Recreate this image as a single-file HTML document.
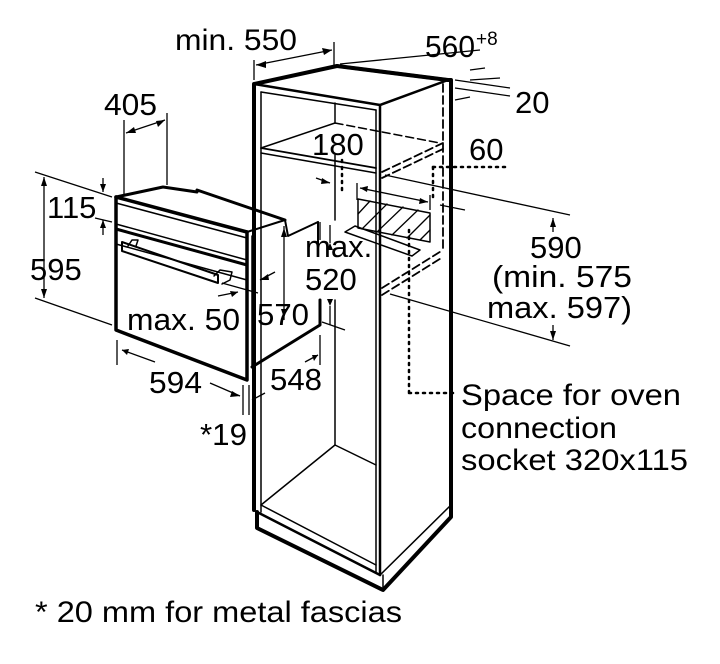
<!DOCTYPE html>
<html><head><meta charset="utf-8"><style>
html,body{margin:0;padding:0;background:#fff;}
svg{display:block;}
text{font-family:"Liberation Sans",Arial,sans-serif;fill:#000;}
</style></head><body>
<svg width="720" height="664" viewBox="0 0 720 664" xmlns="http://www.w3.org/2000/svg">
<rect width="720" height="664" fill="#fff"/>
<g stroke="#000" fill="none" stroke-linecap="round" stroke-linejoin="round">
<polyline points="254,510 254,84 337,66" stroke-width="4"/>
<polyline points="337,66 448,80 451,80 451,517 383,590 257,528 257,512" stroke-width="4"/>
<line x1="254" y1="84" x2="380" y2="105" stroke-width="2.5"/>
<line x1="380" y1="105" x2="448" y2="80" stroke-width="2.5"/>
<line x1="337" y1="66" x2="448" y2="80" stroke-width="3.5"/>
<line x1="380" y1="105" x2="380" y2="575" stroke-width="2.5"/>
<line x1="376" y1="110" x2="376" y2="573" stroke-width="1.5"/>
<line x1="261" y1="92" x2="261" y2="512" stroke-width="1.5"/>
<line x1="261" y1="92" x2="376" y2="110" stroke-width="1.5"/>
<line x1="261" y1="148" x2="376" y2="168" stroke-width="1.8"/>
<line x1="261" y1="153" x2="376" y2="173" stroke-width="1.5"/>
<line x1="261" y1="148" x2="335" y2="123" stroke-width="1.5"/>
<line x1="335" y1="103" x2="335" y2="123" stroke-width="1.5"/>
<line x1="335" y1="123" x2="440" y2="143" stroke-width="1.5" stroke-dasharray="8,4"/>
<line x1="335" y1="155" x2="335" y2="220" stroke-width="1.5"/>
<line x1="335" y1="300" x2="335" y2="445" stroke-width="1.5"/>
<line x1="335" y1="445" x2="376" y2="465" stroke-width="1.5"/>
<line x1="335" y1="445" x2="261" y2="505" stroke-width="1.5"/>
<line x1="261" y1="505" x2="376" y2="565" stroke-width="1.5"/>
<line x1="257" y1="512" x2="380" y2="575" stroke-width="2.5"/>
<line x1="380" y1="575" x2="451" y2="505" stroke-width="1.5"/>
<line x1="383" y1="575" x2="383" y2="590" stroke-width="1.5"/>
<line x1="443" y1="84" x2="443" y2="248" stroke-width="1.8" stroke-dasharray="8,4"/>
<line x1="382" y1="172" x2="443" y2="143" stroke-width="1.8" stroke-dasharray="8,4"/>
<line x1="382" y1="178" x2="443" y2="149" stroke-width="1.8" stroke-dasharray="8,4"/>
<line x1="382" y1="288" x2="443" y2="250" stroke-width="1.8" stroke-dasharray="8,4"/>
<line x1="382" y1="295" x2="443" y2="257" stroke-width="1.8" stroke-dasharray="8,4"/>
<polygon points="358,199 430,213 430,242 358,228" stroke-width="1.5"/>
<g stroke-width="1.3">
<line x1="358" y1="214" x2="370" y2="201"/><line x1="362" y1="229" x2="387" y2="204"/>
<line x1="377" y1="232" x2="403" y2="207"/><line x1="392" y1="235" x2="418" y2="210"/>
<line x1="407" y1="238" x2="430" y2="215"/><line x1="420" y1="240" x2="430" y2="230"/>
</g>
<polyline points="345,232 355,226 420,250 412,256 345,232" stroke-width="1.5"/>
<polyline points="116,197 116,330 247,380 247,232" stroke-width="3.5"/>
<line x1="116" y1="197" x2="247" y2="232" stroke-width="3.5"/>
<line x1="116" y1="203" x2="247" y2="238" stroke-width="1.5"/>
<polyline points="116,197 163,187 197,192" stroke-width="3"/>
<line x1="197" y1="190" x2="285" y2="220" stroke-width="3"/>
<polyline points="247,232 285,220 288,236 318,222" stroke-width="2"/>
<line x1="318" y1="222" x2="318" y2="250" stroke-width="2"/>
<line x1="116" y1="224" x2="247" y2="260" stroke-width="1.5"/>
<line x1="116" y1="229" x2="247" y2="265" stroke-width="3"/>
<line x1="116" y1="244" x2="247" y2="280" stroke-width="1.5"/>
<line x1="252" y1="236" x2="252" y2="367" stroke-width="1.5"/>
<polyline points="252,367 320,325 320,300" stroke-width="3"/>
<path d="M122,242 L218,275 L218,283 L122,251 Z" stroke-width="2"/>
<path d="M128,246 L132,240 L138,240 L136,246" stroke-width="1.5"/>
<path d="M214,276 L220,270 L232,272 L230,280 L222,284" stroke-width="1.5"/>
</g>
<g stroke="#000" stroke-width="1.3" fill="none">
<line x1="254" y1="60" x2="254" y2="80"/><line x1="334" y1="42" x2="334" y2="66"/>
<line x1="256" y1="65" x2="332" y2="50"/>
<line x1="340" y1="64" x2="480" y2="50"/>
<line x1="470" y1="70" x2="485" y2="68"/>
<line x1="455" y1="80" x2="510" y2="88"/><line x1="455" y1="88" x2="510" y2="96"/>
<line x1="500" y1="78" x2="470" y2="80"/><line x1="470" y1="97" x2="455" y2="100"/>
<line x1="124" y1="120" x2="124" y2="195"/><line x1="167" y1="113" x2="167" y2="185"/>
<line x1="126" y1="133" x2="165" y2="120"/>
<line x1="35" y1="172" x2="112" y2="197"/><line x1="35" y1="298" x2="112" y2="325"/>
<line x1="44" y1="177" x2="44" y2="298"/>
<line x1="103" y1="178" x2="103" y2="192"/><line x1="103" y1="220" x2="103" y2="235"/>
<line x1="95" y1="218" x2="112" y2="222"/>
<line x1="284" y1="226" x2="284" y2="320"/>
<line x1="260" y1="280" x2="275" y2="272"/>
<line x1="222" y1="283" x2="258" y2="293"/>
<line x1="218" y1="296" x2="238" y2="292"/>
<line x1="320" y1="222" x2="320" y2="240"/>
<line x1="330" y1="225" x2="330" y2="243"/>
<line x1="330" y1="306" x2="330" y2="325"/>
<line x1="322" y1="322" x2="345" y2="330"/>
<line x1="316" y1="178" x2="330" y2="183"/>
<line x1="357" y1="183" x2="357" y2="200"/><line x1="430" y1="195" x2="430" y2="210"/>
<line x1="360" y1="188" x2="428" y2="202"/>
<line x1="440" y1="205" x2="465" y2="210"/>
<line x1="385" y1="175" x2="570" y2="215"/>
<line x1="390" y1="294" x2="570" y2="346"/>
<line x1="553" y1="218" x2="553" y2="232"/><line x1="553" y1="325" x2="553" y2="340"/>
<line x1="117" y1="340" x2="117" y2="365"/>
<line x1="122" y1="350" x2="155" y2="362"/>
<line x1="210" y1="383" x2="240" y2="396"/>
<line x1="243" y1="385" x2="243" y2="415"/><line x1="249" y1="385" x2="249" y2="415"/>
<line x1="252" y1="400" x2="265" y2="393"/>
<line x1="320" y1="335" x2="320" y2="365"/>
<line x1="305" y1="362" x2="318" y2="355"/>
<g stroke-dasharray="2,5" stroke-width="2.5" stroke-linecap="round">
<line x1="342" y1="160" x2="342" y2="190"/>
<line x1="433" y1="167" x2="510" y2="167"/>
<line x1="433" y1="167" x2="433" y2="200"/>
<line x1="409" y1="230" x2="409" y2="392"/>
<line x1="409" y1="393" x2="455" y2="393"/>
</g>
</g>
<g fill="#000">
<polygon points="332,50 322,48 324,55"/><polygon points="256,65 266,61 266,68"/>
<polygon points="165,120 156,121 158,127"/><polygon points="126,133 134,127 136,133"/>
<polygon points="44,177 41,186 47,186"/><polygon points="44,298 41,289 47,289"/>
<polygon points="103,192 100,184 106,184"/><polygon points="103,220 100,228 106,228"/>
<polygon points="284,228 281,237 287,237"/><polygon points="284,318 281,309 287,309"/>
<polygon points="330,243 327,250 333,250"/><polygon points="330,306 327,299 333,299"/>
<polygon points="553,218 550,227 556,227"/><polygon points="553,340 550,331 556,331"/>
<polygon points="360,188 368,186 367,192"/><polygon points="428,202 420,198 419,204"/>
<polygon points="260,280 268,274 269,280"/><polygon points="238,292 230,291 232,297"/>
<polygon points="122,350 129,349 127,355"/><polygon points="240,396 232,391 230,397"/>
<polygon points="318,355 312,355 314,361"/>
<polygon points="330,183 322,178 321,184"/>
</g>
<text x="175" y="50" font-size="30" textLength="122" lengthAdjust="spacingAndGlyphs">min. 550</text>
<text x="425" y="57" font-size="31" textLength="50" lengthAdjust="spacingAndGlyphs">560</text>
<text x="476" y="45" font-size="19">+8</text>
<text x="515" y="113" font-size="31">20</text>
<text x="104" y="115" font-size="31" textLength="53" lengthAdjust="spacingAndGlyphs">405</text>
<text x="312" y="155" font-size="31">180</text>
<text x="469" y="160" font-size="31">60</text>
<text x="47" y="218" font-size="31">115</text>
<text x="30" y="280" font-size="31">595</text>
<text x="305" y="257" font-size="31">max.</text>
<text x="305" y="290" font-size="31">520</text>
<text x="530" y="258" font-size="31">590</text>
<text x="492" y="287" font-size="31" textLength="140" lengthAdjust="spacingAndGlyphs">(min. 575</text>
<text x="487" y="318" font-size="31" textLength="145" lengthAdjust="spacingAndGlyphs">max. 597)</text>
<text x="127" y="330" font-size="31" textLength="113" lengthAdjust="spacingAndGlyphs">max. 50</text>
<text x="257" y="325" font-size="31" textLength="52" lengthAdjust="spacingAndGlyphs">570</text>
<text x="149" y="393" font-size="31" textLength="53" lengthAdjust="spacingAndGlyphs">594</text>
<text x="270" y="390" font-size="31" textLength="52" lengthAdjust="spacingAndGlyphs">548</text>
<text x="200" y="445" font-size="31" textLength="47" lengthAdjust="spacingAndGlyphs">*19</text>
<text x="461" y="405" font-size="30" textLength="220" lengthAdjust="spacingAndGlyphs">Space for oven</text>
<text x="461" y="438" font-size="30" textLength="156" lengthAdjust="spacingAndGlyphs">connection</text>
<text x="461" y="470" font-size="30" textLength="227" lengthAdjust="spacingAndGlyphs">socket 320x115</text>
<text x="35" y="622" font-size="30" textLength="367" lengthAdjust="spacingAndGlyphs">* 20 mm for metal fascias</text>
</svg>
</body></html>
